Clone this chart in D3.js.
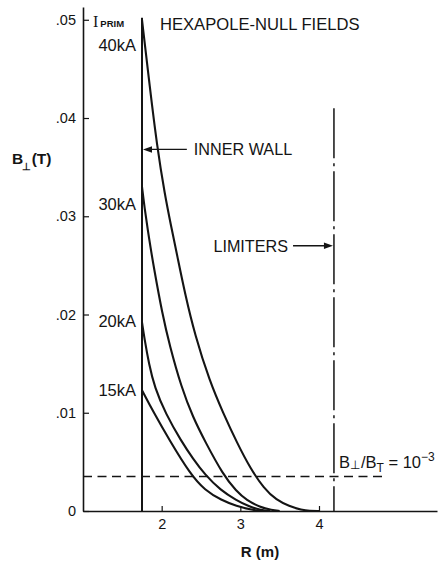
<!DOCTYPE html>
<html>
<head>
<meta charset="utf-8">
<script src="https://cdn.jsdelivr.net/npm/d3@7"></script>
<style>
  html, body { margin: 0; padding: 0; background: #fff; }
  svg { display: block; font-family: "Liberation Sans", Arial, Helvetica, sans-serif; }
</style>
</head>
<body>
<svg id="chart" width="443" height="562"></svg>
<script>
// Axis ticks
const radiusTicks = [2, 3, 4];
const fieldTicks = [0, 0.01, 0.02, 0.03, 0.04, 0.05];

// Primary-current labels, one per curve
const currentLabels = ["40kA", "30kA", "20kA", "15kA"];

// B_perp (T) versus major radius R (m) for each primary current
const r40 = [1.75, 1.85, 1.94, 2.04, 2.12, 2.20, 2.30, 2.42, 2.61, 2.78, 2.96, 3.13, 3.30, 3.46, 3.62, 3.78, 3.88, 4.00];
const b40 = [0.0500, 0.0431, 0.0372, 0.0322, 0.0290, 0.0259, 0.0220, 0.0180, 0.0132, 0.0100, 0.0069, 0.0043, 0.0023, 0.0011, 0.0005, 0.0001, 0.0000, 0.0000];

const r30 = [1.75, 1.78, 1.84, 1.90, 2.01, 2.10, 2.25, 2.40, 2.55, 2.78, 2.95, 3.08, 3.25, 3.40, 3.50];
const b30 = [0.0330, 0.0310, 0.0277, 0.0248, 0.0200, 0.0169, 0.0126, 0.0095, 0.0071, 0.0037, 0.0020, 0.0011, 0.0004, 0.0001, 0.0000];

const r20 = [1.75, 1.78, 1.84, 1.91, 2.05, 2.25, 2.40, 2.55, 2.75, 2.95, 3.10, 3.25, 3.38];
const b20 = [0.0192, 0.0176, 0.0149, 0.0126, 0.0099, 0.0071, 0.0053, 0.0037, 0.0021, 0.0011, 0.0005, 0.0001, 0.0000];

const r15 = [1.75, 1.90, 2.10, 2.36, 2.55, 2.76, 2.95, 3.15, 3.30];
const b15 = [0.0123, 0.0100, 0.0072, 0.0038, 0.0021, 0.0011, 0.0005, 0.0001, 0.0000];

// Machine geometry and reference level
const innerWallR = 1.75;
const limiterR = 4.19;
const limiterTopB = 0.041;
const ratioLevelB = 0.0035;   // B_perp / B_T = 1e-3

const series = [
  { label: currentLabels[0], r: r40, b: b40, labelDy: 26 },
  { label: currentLabels[1], r: r30, b: b30, labelDy: 18 },
  { label: currentLabels[2], r: r20, b: b20, labelDy: 0 },
  { label: currentLabels[3], r: r15, b: b15, labelDy: 1 }
];

const ink = "#141414";
const svg = d3.select("#chart");

const x = d3.scaleLinear().domain([1, 5.5]).range([83, 437]);
const y = d3.scaleLinear().domain([0, 0.0513]).range([511, 7]);

// Axes
const fmtB = d => d === 0 ? "0" : d3.format(".2f")(d).replace(/^0/, "");

const yAxis = svg.append("g")
  .attr("transform", `translate(${x(1)},0)`)
  .call(d3.axisLeft(y).tickValues(fieldTicks).tickFormat(fmtB)
    .tickSizeInner(-6).tickSizeOuter(0).tickPadding(7));

const xAxis = svg.append("g")
  .attr("transform", `translate(0,${y(0)})`)
  .call(d3.axisBottom(x).tickValues(radiusTicks).tickFormat(d3.format("d"))
    .tickSizeInner(-5).tickSizeOuter(0).tickPadding(8));

[yAxis, xAxis].forEach(g => {
  g.select(".domain").attr("stroke", ink).attr("stroke-width", 1.6);
  g.selectAll(".tick line").attr("stroke", ink).attr("stroke-width", 1.2);
  g.selectAll(".tick text").attr("fill", ink).attr("font-size", 14.5);
});

// Reference level B_perp/B_T = 1e-3
svg.append("line")
  .attr("x1", x(1)).attr("x2", x(4.81))
  .attr("y1", y(ratioLevelB)).attr("y2", y(ratioLevelB))
  .attr("stroke", ink).attr("stroke-width", 1.5)
  .attr("stroke-dasharray", "9,5.5");

// Limiter position (dash-dot)
svg.append("line")
  .attr("x1", x(limiterR)).attr("x2", x(limiterR))
  .attr("y1", y(limiterTopB)).attr("y2", y(0))
  .attr("stroke", ink).attr("stroke-width", 1.5)
  .attr("stroke-dasharray", "50,5,3,5");

// Inner wall
svg.append("line")
  .attr("x1", x(innerWallR)).attr("x2", x(innerWallR))
  .attr("y1", y(0)).attr("y2", y(0.0502))
  .attr("stroke", ink).attr("stroke-width", 2);

// Field curves
const line = d3.line()
  .x(d => x(d[0]))
  .y(d => y(d[1]))
  .curve(d3.curveBasis);

series.forEach(s => {
  const pts = s.r.map((r, i) => [r, s.b[i]]);
  svg.append("path")
    .attr("d", line(pts))
    .attr("fill", "none")
    .attr("stroke", ink)
    .attr("stroke-width", 2.1)
    .attr("stroke-linejoin", "round");

  svg.append("text")
    .attr("x", x(innerWallR) - 6)
    .attr("y", y(s.b[0]) + s.labelDy + 5)
    .attr("text-anchor", "end")
    .attr("font-size", 16.5)
    .attr("fill", ink)
    .text(s.label);
});

// I_PRIM header above the current labels
const iPrim = svg.append("text").attr("x", 93).attr("y", 27).attr("fill", ink);
iPrim.append("tspan")
  .attr("font-family", "'Liberation Serif', 'DejaVu Serif', serif")
  .attr("font-size", 16).text("I");
iPrim.append("tspan")
  .attr("dx", 2).attr("font-size", 9.5).attr("font-weight", "bold").text("PRIM");

// Title
svg.append("text")
  .attr("x", 160).attr("y", 30)
  .attr("font-size", 16.6).attr("fill", ink)
  .text("HEXAPOLE-NULL FIELDS");

// Arrow helper: straight shaft with a filled head at (x2, yy)
function arrow(x1, x2, yy) {
  const dir = Math.sign(x2 - x1);
  svg.append("line")
    .attr("x1", x1).attr("x2", x2 - dir * 6)
    .attr("y1", yy).attr("y2", yy)
    .attr("stroke", ink).attr("stroke-width", 1.3);
  svg.append("path")
    .attr("d", `M${x2},${yy} L${x2 - dir * 9},${yy - 3.2} L${x2 - dir * 9},${yy + 3.2} Z`)
    .attr("fill", ink);
}

// INNER WALL annotation
const wallArrowY = y(0.0368);
arrow(x(2.32), x(innerWallR) + 1, wallArrowY);
svg.append("text")
  .attr("x", x(2.32) + 7).attr("y", wallArrowY + 6)
  .attr("font-size", 16.2).attr("fill", ink)
  .text("INNER WALL");

// LIMITERS annotation
const limArrowY = y(0.0270);
arrow(x(3.67), x(limiterR) - 1, limArrowY);
svg.append("text")
  .attr("x", x(3.67) - 5).attr("y", limArrowY + 6)
  .attr("text-anchor", "end")
  .attr("font-size", 16.2).attr("fill", ink)
  .text("LIMITERS");

// Ratio label
const ratio = svg.append("text")
  .attr("x", x(limiterR) + 5).attr("y", 468)
  .attr("font-size", 16.5).attr("fill", ink);
ratio.append("tspan").text("B");
ratio.append("tspan").attr("font-size", 12).attr("dy", 1).text("\u22a5");
ratio.append("tspan").attr("dy", -1).attr("dx", 1).text("/B");
ratio.append("tspan").attr("font-size", 12).attr("dy", 4).text("T");
ratio.append("tspan").attr("dy", -4).text(" = 10");
ratio.append("tspan").attr("font-size", 12).attr("dy", -7).text("\u22123");

// Axis titles
const yTitle = svg.append("text")
  .attr("x", 12).attr("y", 164)
  .attr("font-size", 15.5).attr("font-weight", "bold").attr("fill", ink);
yTitle.append("tspan").text("B");
yTitle.append("tspan").attr("font-size", 10).attr("dx", -1.5).attr("dy", 6).text("\u22a5");
yTitle.append("tspan").attr("dy", -6).attr("dx", 1).text("(T)");

svg.append("text")
  .attr("x", x(3.25)).attr("y", 557)
  .attr("text-anchor", "middle")
  .attr("font-size", 15).attr("font-weight", "bold").attr("fill", ink)
  .text("R (m)");
</script>
</body>
</html>
